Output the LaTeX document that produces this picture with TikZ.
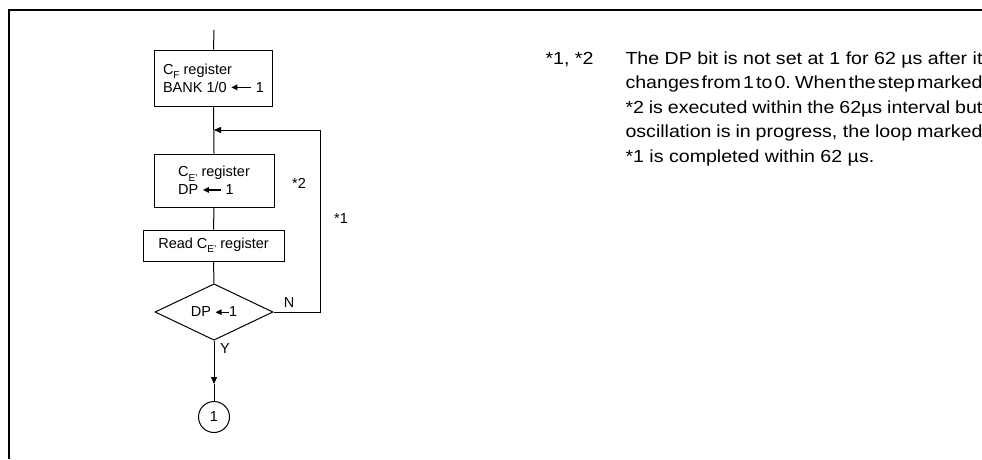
\documentclass[tikz,border=0pt]{standalone}
\usepackage{fontspec}
\setmainfont{Liberation Sans}
\newfontfamily\widefont[FakeStretch=1.12]{Liberation Sans}
\usetikzlibrary{shapes.geometric,arrows.meta}
\newcommand\lsub[1]{\raisebox{-0.3em}{\fontsize{10}{10}\selectfont #1}}
\newcommand\larr[1]{\tikz[baseline=-0.33em]\draw[line width=1.2pt,-{Triangle[length=6pt,width=5.5pt]}] (#1,0pt)--(0pt,0pt);}
\newcommand\jl[1]{\hbox to 357pt{\spaceskip=0.15em plus 1fil minus 0.05em\relax #1}}
\tikzset{
  box/.style={draw, line width=1pt, inner sep=0pt, align=left},
  dec/.style={draw, diamond, line width=1pt, inner sep=0pt, minimum width=118pt, minimum height=50pt},
  conn/.style={circle, draw, line width=1pt, inner sep=0pt, minimum size=31pt},
  arr/.style={-{Triangle[length=7pt,width=6pt]}},
  lbl/.style={inner sep=0pt},
  para/.style={inner sep=0pt, anchor=base west, font=\widefont\fontsize{17.5}{24}\selectfont}
}
\begin{document}
\begin{tikzpicture}[x=1pt,y=-1pt,font=\fontsize{14.5}{18}\selectfont,line width=1pt]
\useasboundingbox (0,0) rectangle (982,459);
% frame
\coordinate (fbl) at (9,459);
\coordinate (ftl) at (9,10);
\coordinate (ftr) at (982,10);
\draw[line width=2pt] (fbl) -- (ftl) -- (ftr);

% flowchart
\node[box, minimum width=118pt, minimum height=56pt] (b1) at (213.5,78) {C\lsub{F} register\\BANK 1/0 \larr{20pt} 1};
\node[box, minimum width=120pt, minimum height=53pt] (b2) at (214,180.5) {C\lsub{E'} register\\DP \larr{18pt} 1};
\node[box, minimum width=141pt, minimum height=31pt, align=center] (b3) at (213.5,245.5) {Read C\lsub{E'} register};
\node[dec] (d) at (214,312) {DP \larr{13pt}1};
\node[conn] (c1) at (214,417) {1};

\coordinate (top) at (214,30);
\coordinate (join) at (214,130);
\coordinate (loopc) at (320,130);
\coordinate (mid) at (214,384);

\draw (top) -- (b1.north);
\draw (b1.south) -- (b2.north);
\draw (b2.south) -- (b3.north);
\draw (b3.south) -- (d.north);
\draw[arr] (d.east) -| (loopc) -- (join);
\draw[arr] (d.south) -- (mid);
\draw (mid) -- (c1.north);

\node[lbl] (n) at (289,303) {N};
\node[lbl] (y) at (225,349) {Y};
\node[lbl] (s2) at (299,183) {*2};
\node[lbl] (s1) at (341,219) {*1};

% note
\node[para] (ref) at (545,64) {*1, *2};
\node[para] (l1) at (625,64) {\jl{The DP bit is not set at 1 for 62 µs after it}};
\node[para] (l2) at (625,88.5) {\jl{changes from 1 to 0. When the step marked}};
\node[para] (l3) at (625,113) {\jl{*2 is executed within the 62µs interval but}};
\node[para] (l4) at (625,137.5) {\jl{oscillation is in progress, the loop marked}};
\node[para] (l5) at (625,162) {*1 is completed within 62 µs.};
\end{tikzpicture}
\end{document}
